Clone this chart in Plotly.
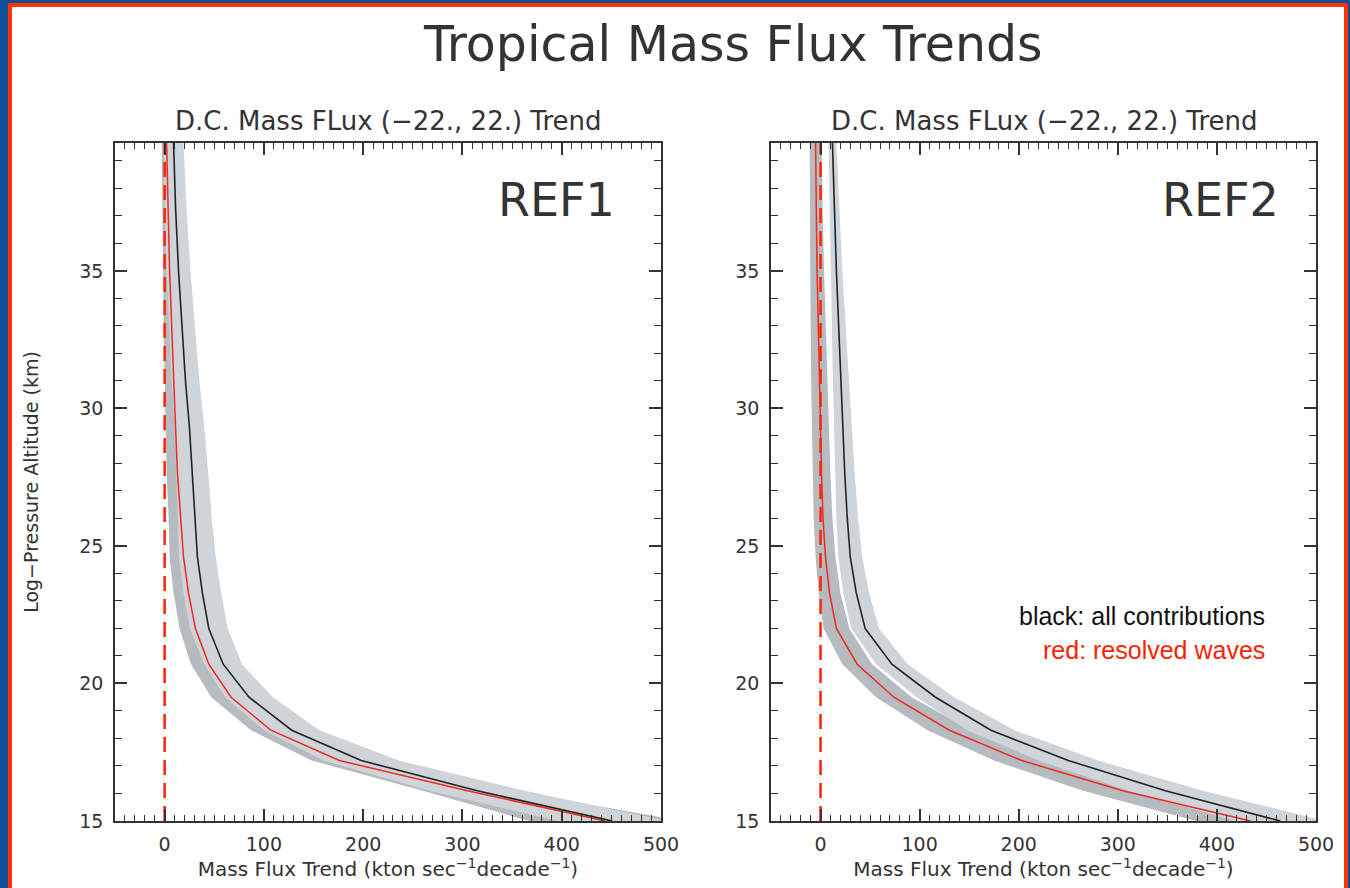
import plotly.graph_objects as go

# ---------------- data ----------------
altitude_km = [15.0, 16.1, 17.2, 18.3, 19.5, 20.7, 22.0, 23.3, 24.6, 26.0,
               27.6, 29.3, 31.0, 33.0, 35.0, 37.3, 39.65]

ref1_all = [451, 315, 198, 128, 85, 59, 44.5, 38, 33, 30.5, 28, 25, 21, 17.5, 14, 11, 9]
ref1_all_err = [55, 48, 38, 28, 24, 19, 19, 19, 18.5, 17, 16, 15, 14, 13, 12, 11, 10]
ref1_res = [444, 305, 176, 107, 67, 44.5, 31, 24, 19, 16, 13, 11, 9, 7, 5, 3.5, 2]
ref1_res_err = [77, 45, 28, 20, 20, 18, 16, 15, 14, 12, 11, 10, 9, 8, 7, 6, 5]

ref2_all = [464, 348, 250, 172, 116, 72, 45, 36, 30, 27, 24.5, 22.5, 20.5, 18.5, 16, 14, 12]
ref2_all_err = [45, 38, 30, 24, 19, 16, 14, 13, 12, 11, 10, 9, 8, 7, 6, 5, 4]
ref2_res = [434, 305, 203, 130, 74, 37, 16, 9, 5, 2.5, 1, 0, -1.5, -2.5, -3.5, -4.3, -5]
ref2_res_err = [55, 40, 28, 22, 18, 15, 13, 11, 10, 9.5, 9, 8.5, 8, 7.5, 7, 6.5, 6]

x_ticks = [0, 100, 200, 300, 400, 500]
y_ticks = [15, 20, 25, 30, 35]
panel_labels = ["REF1", "REF2"]

W, H = 1350, 888
LIGHT = "#cfd4d8"
DARK = "#b6bbbf"
AX = "#333333"
FONT = "DejaVu Sans"

fig = go.Figure()


def band(x, err, z, color, xa, ya):
    lo = [a - e for a, e in zip(x, err)]
    hi = [a + e for a, e in zip(x, err)]
    fig.add_trace(go.Scatter(x=hi + lo[::-1], y=z + z[::-1], fill="toself",
                             fillcolor=color, line=dict(width=0), mode="lines",
                             xaxis=xa, yaxis=ya, hoverinfo="skip", showlegend=False))


panels = [
    (ref1_all, ref1_all_err, ref1_res, ref1_res_err, "x", "y"),
    (ref2_all, ref2_all_err, ref2_res, ref2_res_err, "x2", "y2"),
]
for a, ae, r, re_, xa, ya in panels:
    band(r, re_, altitude_km, DARK, xa, ya)
    band(a, ae, altitude_km, LIGHT, xa, ya)
    fig.add_trace(go.Scatter(x=[0, 0], y=[altitude_km[0], altitude_km[-1]], mode="lines",
                             line=dict(color="#ff2200", width=2.5, dash="15px,8px"),
                             xaxis=xa, yaxis=ya, showlegend=False))
    fig.add_trace(go.Scatter(x=r, y=altitude_km, mode="lines",
                             line=dict(color="#ee2a22", width=1.5),
                             xaxis=xa, yaxis=ya, showlegend=False))
    fig.add_trace(go.Scatter(x=a, y=altitude_km, mode="lines",
                             line=dict(color="#222222", width=1.6),
                             xaxis=xa, yaxis=ya, showlegend=False))

xdoms = [[115 / W, 661 / W], [771 / W, 1316 / W]]
ydom = [1 - 821 / H, 1 - 143 / H]

xt = "Mass Flux Trend (kton sec<sup>−1</sup>decade<sup>−1</sup>)"


def xaxis(dom, anchor):
    return dict(domain=dom, anchor=anchor, range=[-50, 500], tickvals=x_ticks,
                ticks="inside", ticklen=12, tickwidth=1.5, tickcolor=AX,
                mirror="allticks", showline=True, linecolor=AX, linewidth=1.5,
                minor=dict(dtick=10, tick0=0, ticks="inside", ticklen=6,
                           tickwidth=1.2, tickcolor=AX),
                showgrid=False, zeroline=False, automargin=False, ticklabelstandoff=5,
                tickfont=dict(family=FONT, size=19, color=AX),
                title=dict(text=xt, font=dict(family=FONT, size=20, color=AX), standoff=3))


def yaxis(anchor, title):
    d = dict(domain=ydom, anchor=anchor, range=[15, 39.65], tickvals=y_ticks,
             ticks="inside", ticklen=12, tickwidth=1.5, tickcolor=AX,
             mirror="allticks", showline=True, linecolor=AX, linewidth=1.5,
             minor=dict(dtick=1, tick0=15, ticks="inside", ticklen=7,
                        tickwidth=1.2, tickcolor=AX),
             showgrid=False, zeroline=False, automargin=False, ticklabelstandoff=6,
             tickfont=dict(family=FONT, size=19, color=AX))
    if title:
        d["title"] = dict(text=title, font=dict(family=FONT, size=19, color=AX), standoff=36)
    return d


def ann(text, x, y, size, color, family=FONT, xanchor="center"):
    return dict(text=text, x=x / W, y=1 - y / H, xref="paper", yref="paper",
                xanchor=xanchor, yanchor="middle", showarrow=False,
                font=dict(family=family, size=size, color=color))


subtitle = "D.C. Mass FLux (−22., 22.) Trend"
annotations = [
    ann("Tropical Mass Flux Trends", 733, 45, 49, "#333333"),
    ann(subtitle, 388, 121, 26, AX),
    ann(subtitle, 1044, 121, 26, AX),
    ann(panel_labels[0], 617, 200, 46, "#333333", xanchor="right"),
    ann(panel_labels[1], 1281, 200, 46, "#333333", xanchor="right"),
    ann("black: all contributions", 1267, 616, 25, "#111111",
        family="Liberation Sans, Arial", xanchor="right"),
    ann("red: resolved waves", 1267, 650, 25, "#ff2200",
        family="Liberation Sans, Arial", xanchor="right"),
]

shapes = [
    dict(type="rect", xref="paper", yref="paper", x0=10 / W, x1=1346 / W, y0=-0.05, y1=1 - 5 / H,
         fillcolor="white", line=dict(color="#ff3300", width=4), layer="below"),
]

fig.update_layout(
    width=W, height=H,
    margin=dict(l=0, r=0, t=0, b=0, autoexpand=False),
    paper_bgcolor="#0f4f98",
    plot_bgcolor="rgba(0,0,0,0)",
    showlegend=False,
    xaxis=xaxis(xdoms[0], "y"),
    xaxis2=xaxis(xdoms[1], "y2"),
    yaxis=yaxis("x", "Log−Pressure Altitude (km)"),
    yaxis2=yaxis("x2", None),
    annotations=annotations,
    shapes=shapes,
)

fig.write_html("out.html")
